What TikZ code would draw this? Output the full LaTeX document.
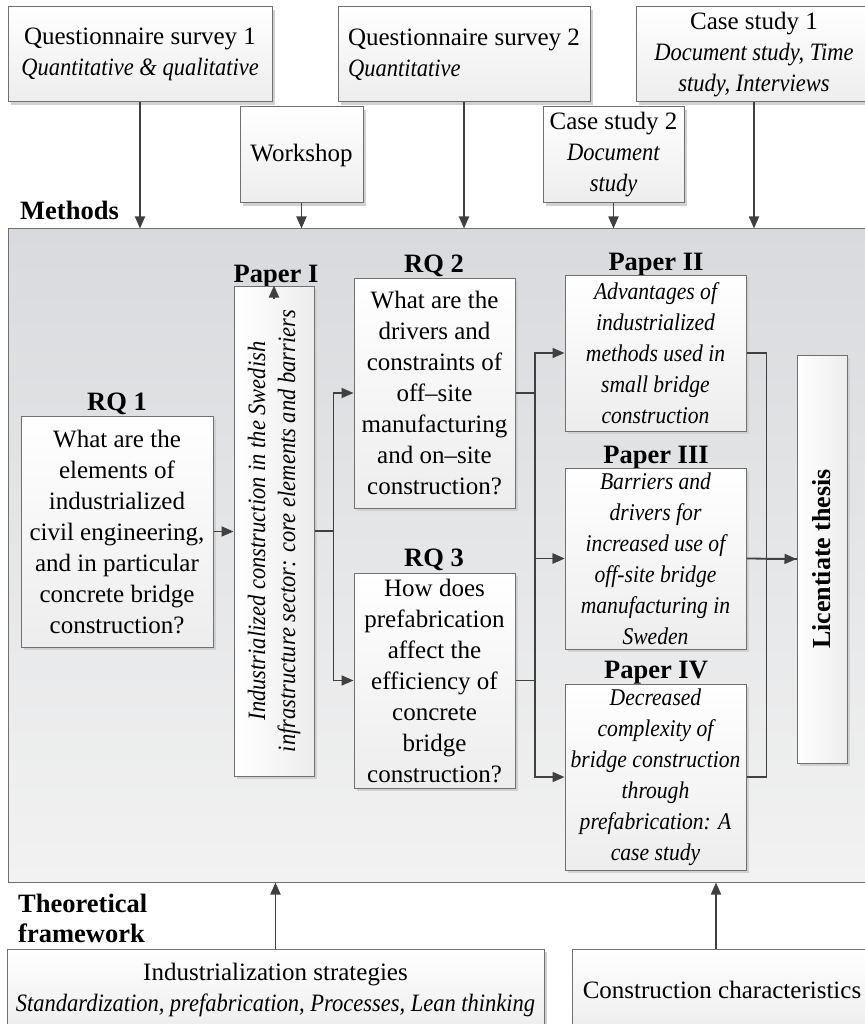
\documentclass[tikz,border=0pt]{standalone}
\usepackage{fontspec}
\setmainfont{Liberation Serif}[ItalicFeatures={FakeStretch=0.9}]
\usetikzlibrary{arrows.meta,shadows,calc}

\definecolor{linecol}{HTML}{404040}
\definecolor{edgecol}{HTML}{707070}
\definecolor{paneltop}{HTML}{D8DADD}
\definecolor{panelbot}{HTML}{F2F2F2}
\definecolor{boxbot}{HTML}{EDEDED}

\tikzset{
  box/.style={draw=edgecol, line width=1pt, top color=white, bottom color=boxbot,
    general shadow={fill=black!18, shadow xshift=3pt, shadow yshift=-3pt},
    inner sep=0pt, align=center, font=\fontsize{25}{31}\selectfont},
  sidebox/.style={box, left color=white, right color=boxbot},
  paperbox/.style={box, font=\fontsize{24}{31}\selectfont\itshape},
  panel/.style={draw=edgecol, line width=1pt, top color=paneltop, bottom color=panelbot, inner sep=0pt},
  lbl/.style={font=\fontsize{26.5}{30}\selectfont\bfseries, inner sep=0pt},
  vtext/.style={rotate=90, inner sep=0pt, align=center},
  line/.style={draw=linecol, line width=1.8pt},
  arr/.style={line, -{Triangle[length=12pt,width=10pt]}},
}

\begin{document}
\begin{tikzpicture}[x=1pt,y=-1pt]
\useasboundingbox (0,0) rectangle (864,1024);

% central panel
\node[panel, minimum width=872pt, minimum height=653pt] (panel) at (444,555.5) {};

% methods
\node[box, minimum width=264pt, minimum height=95pt] (q1) at (140,54.5)
  {Questionnaire survey 1\\\textit{Quantitative \& qualitative}};
\node[box, minimum width=252pt, minimum height=95pt, align=left] (q2) at (464,54.5)
  {Questionnaire survey 2\\\textit{Quantitative}};
\node[box, minimum width=236pt, minimum height=95pt] (cs1) at (754,54.5)
  {Case study 1\\\textit{Document study, Time}\\\textit{study, Interviews}};
\node[box, minimum width=123pt, minimum height=96pt] (ws) at (301.5,155) {Workshop};
\node[box, minimum width=141pt, minimum height=96pt] (cs2) at (613.5,155)
  {Case study 2\\\textit{Document}\\\textit{study}};
\node[lbl, anchor=base west] (meth) at (20,220) {Methods};

\draw[arr] (q1.south) -- (q1.south |- panel.north);
\draw[arr] (ws.south) -- (ws.south |- panel.north);
\draw[arr] (q2.south) -- (q2.south |- panel.north);
\draw[arr] (cs2.south) -- (cs2.south |- panel.north);
\draw[arr] (cs1.south) -- (cs1.south |- panel.north);

% research questions
\node[lbl, anchor=base] (rq1l) at (117,410) {RQ 1};
\node[box, minimum width=192pt, minimum height=231pt] (rq1) at (117,531.5)
  {What are the\\elements of\\industrialized\\civil engineering,\\and in particular\\concrete bridge\\construction?};

\node[lbl, anchor=base] (rq2l) at (434,272) {RQ 2};
\node[box, minimum width=161pt, minimum height=230pt] (rq2) at (434.5,393)
  {What are the\\drivers and\\constraints of\\off–site\\manufacturing\\and on–site\\construction?};

\node[lbl, anchor=base] (rq3l) at (434,566) {RQ 3};
\node[box, minimum width=161pt, minimum height=215pt] (rq3) at (434.5,680.5)
  {How does\\prefabrication\\affect the\\efficiency of\\concrete\\bridge\\construction?};

% papers
\node[lbl, anchor=base] (p1l) at (276,282) {Paper I};
\node[sidebox, minimum width=80pt, minimum height=490pt] (p1) at (274,531) {};
\node[vtext, font=\fontsize{25}{30}\selectfont\itshape] (p1t) at (p1.center)
  {Industrialized construction in the Swedish\\infrastructure sector: core elements and barriers};

\node[lbl, anchor=base] (p2l) at (656,270) {Paper II};
\node[paperbox, minimum width=181pt, minimum height=156pt] (p2) at (655.5,353)
  {Advantages of\\industrialized\\methods used in\\small bridge\\construction};

\node[lbl, anchor=base] (p3l) at (656,463) {Paper III};
\node[paperbox, minimum width=181pt, minimum height=181pt] (p3) at (655.5,558.5)
  {Barriers and\\drivers for\\increased use of\\off-site bridge\\manufacturing in\\Sweden};

\node[lbl, anchor=base] (p4l) at (656,678) {Paper IV};
\node[paperbox, minimum width=181pt, minimum height=186pt] (p4) at (655.5,777)
  {Decreased\\complexity of\\bridge construction\\through\\prefabrication: A\\case study};

\node[sidebox, minimum width=50pt, minimum height=408pt] (lic) at (822,559) {};
\node[vtext, font=\fontsize{26}{30}\selectfont\bfseries] (lict) at (lic.center) {Licentiate thesis};

% flow inside the panel
\draw[arr] ($(p1.north)+(0,13)$) -- (p1.north);
\draw[arr] (rq1.east) -- (rq1.east -| p1.west);
\draw[arr] (p1.east) -- ++(19,0) |- (rq2.west);
\draw[arr] (p1.east) -- ++(19,0) |- (rq3.west);
\draw[arr] (rq2.east) -- ++(19.5,0) |- (p2.west);
\draw[arr] (rq2.east) -- ++(19.5,0) |- (p3.west);
\draw[arr] (rq3.east) -- ++(19.5,0) |- (p3.west);
\draw[arr] (rq3.east) -- ++(19.5,0) |- (p4.west);
\draw[line] (p2.east) -- ++(20,0) |- (lic.west);
\draw[line] (p4.east) -- ++(20,0) |- (lic.west);
\draw[arr] (p3.east) -- (lic.west);

% theoretical framework
\node[lbl, anchor=base west] (th1) at (18,912) {Theoretical};
\node[lbl, anchor=base west] (th2) at (18,942) {framework};
\node[box, minimum width=537pt, minimum height=82pt] (ind) at (275.5,990)
  {Industrialization strategies\\\textit{Standardization, prefabrication, Processes, Lean thinking}};
\node[box, minimum width=300pt, minimum height=82pt] (ci) at (722,990)
  {Construction characteristics};

\draw[arr] (ind.north) -- (ind.north |- panel.south);
\draw[arr] ($(ci.north)+(-6,0)$) -- ($(ci.north |- panel.south)+(-6,0)$);
\end{tikzpicture}
\end{document}
